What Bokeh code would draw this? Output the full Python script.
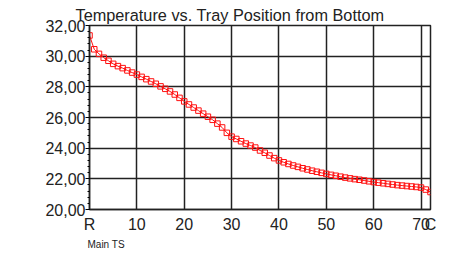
from bokeh.plotting import figure
from bokeh.models import FixedTicker, Range1d, ColumnDataSource, Title
from bokeh.embed import file_html
from bokeh.resources import INLINE

trays = list(range(0, 73))
temps = [31.35, 30.45, 30.15, 29.9, 29.7, 29.5, 29.35, 29.22, 29.07, 28.93,
         28.8, 28.65, 28.5, 28.35, 28.2, 28.03, 27.87, 27.7, 27.5, 27.28,
         27.05, 26.85, 26.65, 26.45, 26.25, 26.05, 25.85, 25.6, 25.35, 25.0,
         24.75, 24.6, 24.45, 24.3, 24.17, 24.04, 23.85, 23.7, 23.52, 23.35,
         23.2, 23.08, 22.97, 22.87, 22.78, 22.69, 22.61, 22.53, 22.46, 22.39,
         22.32, 22.26, 22.2, 22.14, 22.08, 22.03, 21.98, 21.94, 21.89, 21.84,
         21.79, 21.75, 21.71, 21.67, 21.63, 21.59, 21.56, 21.53, 21.5, 21.47,
         21.43, 21.3, 21.14]
x_ticks = [0, 10, 20, 30, 40, 50, 60, 70, 72]
x_labels = ["R", "10", "20", "30", "40", "50", "60", "70", "C"]
y_ticks = [20, 22, 24, 26, 28, 30, 32]
y_labels = ["20,00", "22,00", "24,00", "26,00", "28,00", "30,00", "32,00"]
title_text = "Temperature vs. Tray Position from Bottom"
sub_text = "Main TS"

FONT = "Liberation Sans"
TXT = "#222222"

p = figure(width=448, height=250, output_backend="svg", toolbar_location=None,
           x_range=Range1d(0, 72), y_range=Range1d(20, 32),
           min_border_left=89, min_border_right=18, min_border_top=25,
           min_border_bottom=39)
p.title.text = title_text
p.title.align = "left"
p.title.vertical_align = "top"
p.title.offset = -14
p.title.standoff = 0
p.title.text_line_height = 0.6
p.title.text_font = FONT
p.title.text_font_size = "16.3px"
p.title.text_font_style = "normal"
p.title.text_color = TXT

p.outline_line_color = "#222222"
p.outline_line_width = 1.5
p.background_fill_color = "white"
p.border_fill_color = "white"

src = ColumnDataSource(dict(x=trays, y=temps))
p.line("x", "y", source=src, line_color="#ff1010", line_width=1)
p.scatter("x", "y", source=src, marker="square", size=5.5, line_color="#ff1010",
          fill_color="white", fill_alpha=0.0, line_width=1)

xa = p.xaxis[0]
xa.ticker = FixedTicker(ticks=x_ticks)
xa.major_label_overrides = {t: l for t, l in zip(x_ticks, x_labels)}
xa.major_tick_out = 0
xa.major_tick_in = 0
xa.minor_tick_out = 0
xa.major_label_standoff = 6
xa.axis_line_color = "#222222"
xa.axis_line_width = 1.5
xa.major_label_text_font = FONT
xa.major_label_text_font_size = "16px"
xa.major_label_text_color = TXT

ya = p.yaxis[0]
ya.ticker = FixedTicker(ticks=y_ticks, minor_ticks=[20 + 0.4 * i for i in range(31)])
ya.major_label_overrides = {t: l for t, l in zip(y_ticks, y_labels)}
ya.major_tick_out = 4
ya.major_tick_in = 0
ya.minor_tick_out = 2
ya.minor_tick_in = 0
ya.major_label_standoff = 0
ya.axis_line_color = "#222222"
ya.axis_line_width = 1.5
ya.major_label_text_font = FONT
ya.major_label_text_font_size = "16px"
ya.major_label_text_color = TXT

p.xgrid.ticker = FixedTicker(ticks=x_ticks)
p.ygrid.ticker = FixedTicker(ticks=y_ticks)
for g in (p.xgrid[0], p.ygrid[0]):
    g.grid_line_color = "#222222"
    g.grid_line_width = 1.5
    g.grid_line_alpha = 1.0

p.add_layout(Title(text=sub_text, align="left", offset=-2, standoff=2,
                   text_font=FONT, text_font_size="10px",
                   text_font_style="normal", text_color=TXT), "below")

open("out.html", "w").write(file_html(p, INLINE))
